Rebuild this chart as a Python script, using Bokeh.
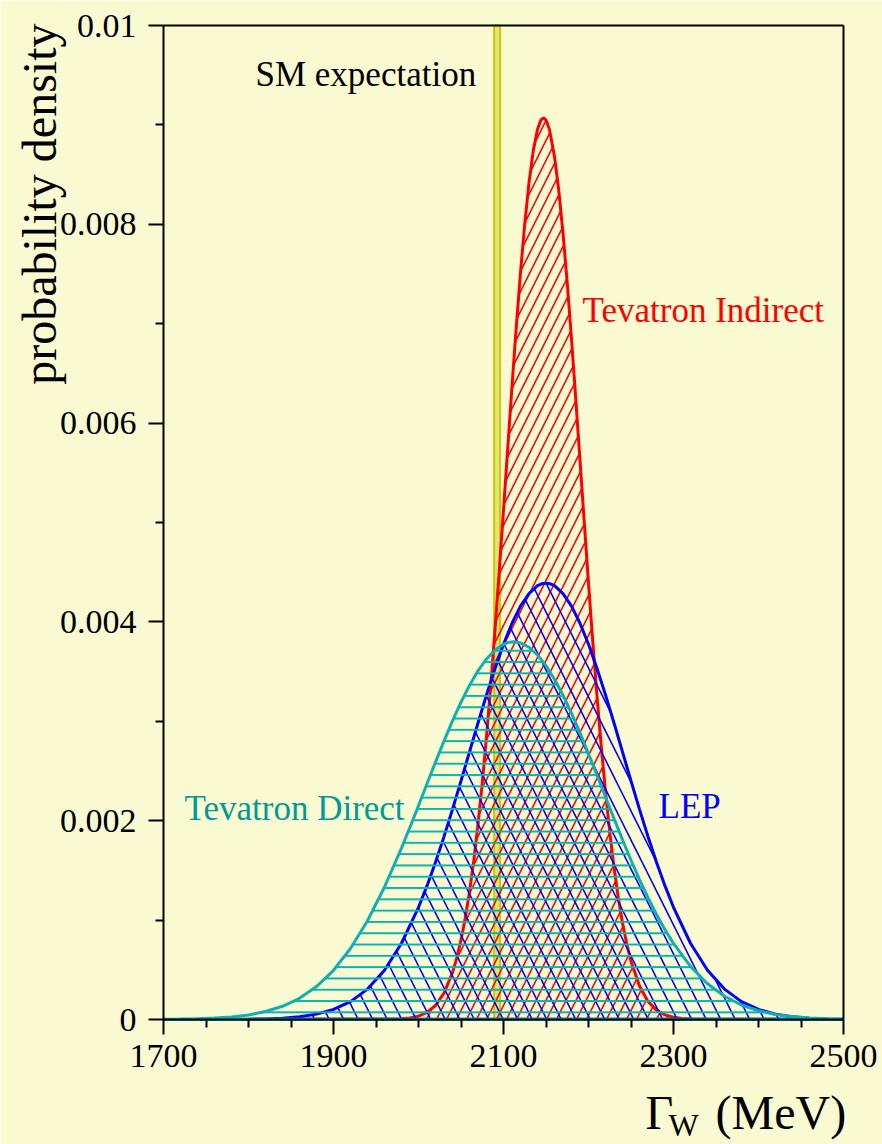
from bokeh.plotting import figure
from bokeh.models import Range1d, FixedTicker, Label, LinearAxis
from bokeh.embed import file_html
from bokeh.resources import INLINE

# ---------------- data ----------------
x_ticks = [1700, 1900, 2100, 2300, 2500]
x_minor = [1750, 1800, 1850, 1950, 2000, 2050, 2150, 2200, 2250, 2350, 2400, 2450]
y_ticks = [0, 0.002, 0.004, 0.006, 0.008, 0.01]
y_tick_labels = ["0", "0.002", "0.004", "0.006", "0.008", "0.01"]
y_minor = [0.001, 0.003, 0.005, 0.007, 0.009]

# Tevatron Indirect
ind_x = [1700, 1980, 1990, 2000, 2010, 2020, 2030, 2040, 2045, 2050, 2055, 2060, 2065,
         2070, 2075, 2080, 2085, 2090, 2095, 2100, 2105, 2110, 2115, 2120, 2125, 2130,
         2135, 2140, 2144, 2147, 2150, 2154, 2160, 2165, 2170, 2175, 2180, 2185, 2190,
         2195, 2200, 2205, 2210, 2215, 2220, 2225, 2230, 2235, 2240, 2245, 2250, 2260,
         2270, 2280, 2290, 2300, 2310, 2320, 2500]
ind_y = [0, 0.000007, 0.000016, 0.000034, 0.000071, 0.000141, 0.000265, 0.000471,
         0.000617, 0.000798, 0.001020, 0.001284, 0.001597, 0.001962, 0.002378,
         0.002846, 0.003361, 0.003919, 0.004511, 0.005127, 0.005751, 0.006369,
         0.006962, 0.007513, 0.008004, 0.008418, 0.008739, 0.008956, 0.009049,
         0.009070, 0.009049, 0.008956, 0.008683, 0.008342, 0.007912, 0.007408,
         0.006847, 0.006247, 0.005626, 0.005003, 0.004391, 0.003804, 0.003254,
         0.002748, 0.002290, 0.001885, 0.001531, 0.001228, 0.000972, 0.000759,
         0.000586, 0.000336, 0.000182, 0.000094, 0.000046, 0.000022, 0.000010,
         0.000004, 0]

# LEP
lep_x = [1700, 1780, 1800, 1820, 1840, 1860, 1880, 1900, 1920, 1940, 1960, 1980, 2000,
         2010, 2020, 2030, 2040, 2050, 2060, 2070, 2080, 2090, 2100, 2110, 2120, 2130,
         2140, 2145, 2150, 2155, 2160, 2170, 2180, 2190, 2200, 2210, 2220, 2230, 2240,
         2250, 2260, 2270, 2280, 2290, 2300, 2320, 2340, 2360, 2380, 2400, 2420, 2440,
         2460, 2480, 2500]
lep_y = [0, 0.000001, 0.000003, 0.000006, 0.000013, 0.000027, 0.000054, 0.000101,
         0.000180, 0.000306, 0.000496, 0.000767, 0.001129, 0.001344, 0.001582,
         0.001840, 0.002114, 0.002400, 0.002692, 0.002983, 0.003266, 0.003532,
         0.003775, 0.003986, 0.004158, 0.004285, 0.004364, 0.004383, 0.004390,
         0.004383, 0.004364, 0.004285, 0.004158, 0.003986, 0.003775, 0.003532,
         0.003266, 0.002983, 0.002692, 0.002400, 0.002114, 0.001840, 0.001582,
         0.001344, 0.001129, 0.000767, 0.000496, 0.000306, 0.000180, 0.000101,
         0.000054, 0.000027, 0.000013, 0.000006, 0.000003]

# Tevatron Direct
dir_x = [1700, 1720, 1740, 1760, 1780, 1800, 1820, 1840, 1860, 1880, 1900, 1920, 1940,
         1960, 1980, 1990, 2000, 2010, 2020, 2030, 2040, 2050, 2060, 2070, 2080, 2090,
         2100, 2105, 2112, 2120, 2130, 2140, 2150, 2160, 2170, 2180, 2190, 2200, 2210,
         2220, 2230, 2240, 2250, 2260, 2270, 2280, 2290, 2300, 2320, 2340, 2360, 2380,
         2400, 2420, 2440, 2460, 2480, 2500]
dir_y = [0.000002, 0.000004, 0.000007, 0.000014, 0.000026, 0.000046, 0.000080,
         0.000133, 0.000213, 0.000331, 0.000495, 0.000714, 0.000993, 0.001333,
         0.001725, 0.001935, 0.002151, 0.002371, 0.002589, 0.002801, 0.003004,
         0.003192, 0.003361, 0.003508, 0.003627, 0.003718, 0.003775, 0.003792,
         0.003800, 0.003789, 0.003745, 0.003667, 0.003559, 0.003423, 0.003262,
         0.003081, 0.002884, 0.002674, 0.002458, 0.002239, 0.002021, 0.001808,
         0.001602, 0.001407, 0.001225, 0.001056, 0.000903, 0.000765, 0.000534,
         0.000360, 0.000234, 0.000146, 0.000088, 0.000051, 0.000029, 0.000016,
         0.000008, 0.000004]

sm_low, sm_high = 2089, 2096

BG = "#fafad2"
SERIF = "Liberation Serif"
W, H = 882, 1144
FL, FR, FT, FB = 163, 843, 25, 1019   # pixel box of the axes

# scale: the plotting frame covers the whole canvas, axes are fixed inside it
xs = (x_ticks[-1] - x_ticks[0]) / (FR - FL)
ys = (y_ticks[-1] - y_ticks[0]) / (FB - FT)
x0 = x_ticks[0] - FL * xs
x1 = x_ticks[-1] + (W - FR) * xs
y0 = y_ticks[0] - (H - FB) * ys
y1 = y_ticks[-1] + FT * ys


def dxp(px):
    return x0 + px * xs


def dyp(py):
    return y1 - py * ys


p = figure(width=W, height=H, output_backend="svg", toolbar_location=None,
           x_range=Range1d(x0, x1), y_range=Range1d(y0, y1),
           x_axis_location=None, y_axis_location=None)
p.min_border = 0
p.min_border_left = 0
p.min_border_right = 0
p.min_border_top = 0
p.min_border_bottom = 0
p.background_fill_color = BG
p.border_fill_color = BG
p.outline_line_color = None
p.grid.visible = False


def style_axis(ax, tick_len=15, minor_len=8):
    ax.axis_line_width = 2
    ax.axis_line_color = "black"
    ax.major_tick_line_width = 2
    ax.minor_tick_line_width = 2
    ax.major_tick_out = tick_len
    ax.major_tick_in = 0
    ax.minor_tick_out = minor_len
    ax.minor_tick_in = 0
    ax.major_label_text_font = SERIF
    ax.major_label_text_font_size = "34px"
    ax.major_label_text_color = "black"


xaxis = LinearAxis(fixed_location=y_ticks[0], bounds=(x_ticks[0], x_ticks[-1]),
                   ticker=FixedTicker(ticks=x_ticks, minor_ticks=x_minor))
style_axis(xaxis)
xaxis.major_label_standoff = 10
p.add_layout(xaxis, "below")

yaxis = LinearAxis(fixed_location=x_ticks[0], bounds=(y_ticks[0], y_ticks[-1]),
                   ticker=FixedTicker(ticks=y_ticks, minor_ticks=y_minor))
style_axis(yaxis)
yaxis.major_label_overrides = {t: l for t, l in zip(y_ticks, y_tick_labels)}
yaxis.major_label_standoff = 12
p.add_layout(yaxis, "left")

# frame top / right edges
topaxis = LinearAxis(fixed_location=y_ticks[-1], bounds=(x_ticks[0], x_ticks[-1]),
                     ticker=FixedTicker(ticks=[]))
style_axis(topaxis, 0, 0)
topaxis.major_label_text_font_size = "0px"
p.add_layout(topaxis, "above")

rightaxis = LinearAxis(fixed_location=x_ticks[-1], bounds=(y_ticks[0], y_ticks[-1]),
                       ticker=FixedTicker(ticks=[]))
style_axis(rightaxis, 0, 0)
rightaxis.major_label_text_font_size = "0px"
p.add_layout(rightaxis, "right")

# SM expectation band
p.quad(left=[sm_low], right=[sm_high], bottom=[0], top=[0.01],
       fill_color="#e4e47a", line_color="#c8c800", line_width=2)

# curves
p.patch(ind_x, ind_y, fill_alpha=0, hatch_pattern="/", hatch_color="#ff0000",
        hatch_scale=20, hatch_weight=1.6, line_color="#ff0000", line_width=3)
p.patch(lep_x, lep_y, fill_alpha=0, hatch_pattern="\\", hatch_color="#0000ff",
        hatch_scale=29, hatch_weight=1.6, line_color="#0000ff", line_width=3)
p.patch(dir_x, dir_y, fill_alpha=0, hatch_pattern="-", hatch_color="#11b0b0",
        hatch_scale=11.3, hatch_weight=2, line_color="#11b0b0", line_width=3)


def lab(px, py, text, color, size, rotated=False, **kw):
    # px, py: wanted alphabetic baseline position in pixels
    shift = 0.34 * size
    if rotated:
        px -= shift
        kw["angle"] = 1.5707963
    else:
        py -= shift
    p.add_layout(Label(x=dxp(px), y=dyp(py), text=text, text_color=color,
                       text_font=SERIF, text_font_size=f"{size}px",
                       text_baseline="alphabetic", **kw))


lab(255, 86, "SM expectation", "black", 35)
lab(582, 322, "Tevatron Indirect", "#ff0000", 35)
lab(658, 818, "LEP", "#0000ff", 35)
lab(184, 820, "Tevatron Direct", "#009999", 35)

# axis titles
lab(55, 23, "probability density", "black", 48, rotated=True, text_align="right")
lab(645, 1128, "Γ", "black", 48)
lab(668, 1135, "W", "black", 32)
lab(715, 1128, "(MeV)", "black", 48)

open("out.html", "w").write(file_html(p, INLINE))
